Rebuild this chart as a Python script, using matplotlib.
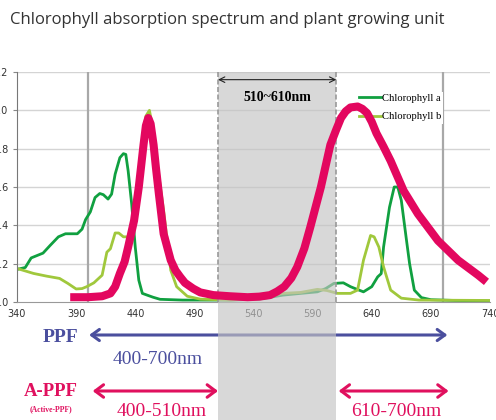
import numpy as np
from matplotlib import pyplot as plt
from matplotlib.transforms import blended_transform_factory

# absorbance / emission curves
chl_a_wl = [340, 347, 352, 356, 362, 368, 375, 381, 391, 395, 398, 402, 406, 410, 413, 417, 420, 423, 427, 430,
            432, 434, 437, 440, 443, 446, 450, 455, 461, 480, 500, 520, 545, 565, 580, 594, 601, 608, 616, 622,
            628, 633, 640, 645, 648, 650, 655, 659, 662, 665, 669, 672, 676, 682, 690, 710, 740]
chl_a_abs = [0.17, 0.18, 0.23, 0.24, 0.255, 0.295, 0.34, 0.356, 0.356, 0.38, 0.43, 0.47, 0.545, 0.566, 0.56, 0.537,
             0.563, 0.667, 0.753, 0.774, 0.77, 0.684, 0.51, 0.287, 0.114, 0.045, 0.036, 0.025, 0.014, 0.01,
             0.01, 0.01, 0.015, 0.036, 0.045, 0.053, 0.07, 0.097, 0.1, 0.08, 0.065, 0.053, 0.08, 0.131, 0.148,
             0.287, 0.494, 0.6, 0.6, 0.53, 0.34, 0.2, 0.062, 0.023, 0.012, 0.008, 0.005]

chl_b_wl = [340, 354, 365, 376, 383, 390, 395, 399, 405, 412, 416, 419, 423, 426, 430, 434, 438, 442, 446, 449,
            452, 455, 459, 464, 470, 475, 484, 495, 520, 545, 565, 580, 594, 602, 611, 622, 628, 633, 639, 642,
            646, 650, 656, 665, 680, 740]
chl_b_abs = [0.175, 0.149, 0.135, 0.123, 0.097, 0.068, 0.07, 0.08, 0.1, 0.14, 0.26, 0.278, 0.36, 0.36, 0.34, 0.34,
             0.39, 0.6, 0.85, 0.97, 1.0, 0.9, 0.7, 0.477, 0.166, 0.08, 0.03, 0.015, 0.01, 0.02, 0.045, 0.05,
             0.066, 0.06, 0.045, 0.045, 0.062, 0.218, 0.347, 0.34, 0.287, 0.183, 0.062, 0.02, 0.01, 0.008]

led_wl = [385, 400, 412, 419, 423, 427, 431, 434, 439, 443, 445, 447, 449, 451, 453, 455.5, 457.5, 460, 464, 470,
          474, 478, 482, 489, 495, 506, 520, 535, 545, 554, 560, 566, 572, 577, 583, 588, 597, 605, 610, 614,
          618, 622, 628, 632, 636, 640, 644, 650, 656, 667, 679, 696, 713, 730, 737]
led_val = [0.025, 0.025, 0.03, 0.045, 0.08, 0.149, 0.21, 0.287, 0.425, 0.6, 0.71, 0.82, 0.92, 0.96, 0.93, 0.82,
           0.7, 0.563, 0.356, 0.218, 0.165, 0.131, 0.1, 0.07, 0.05, 0.036, 0.03, 0.025, 0.028, 0.036, 0.055, 0.08,
           0.125, 0.183, 0.28, 0.39, 0.6, 0.82, 0.9, 0.96, 0.995, 1.015, 1.02, 1.008, 0.986, 0.94, 0.88, 0.81,
           0.736, 0.58, 0.46, 0.32, 0.218, 0.14, 0.105]

x_ticks = [340, 390, 440, 490, 540, 590, 640, 690, 740]
y_ticks = [0.0, 0.2, 0.4, 0.6, 0.8, 1.0, 1.2]
gap = (510, 610)
ppf = (401, 704)
appf_left = (404, 510)
appf_right = (612, 705)

blue = '#4b4f9e'
pink = '#e0105e'
serif = 'Liberation Serif'

fig = plt.figure(figsize=(4.96, 4.2), dpi=100)
ax = fig.add_axes([17 / 496, 118 / 420, 473 / 496, 230 / 420])
ax.set_xlim(340, 740)
ax.set_ylim(0, 1.2)
ax.set_xticks(x_ticks)
ax.set_yticks(y_ticks)
ax.set_yticklabels(['%.1f' % v for v in y_ticks])
ax.tick_params(axis='x', length=0, pad=5, labelsize=7, labelcolor='#333333')
ax.tick_params(axis='y', length=3, pad=3, labelsize=7, labelcolor='#333333', color='#888888')
for s in ['top', 'right']:
    ax.spines[s].set_visible(False)
ax.spines['left'].set_color('#777777')
ax.spines['bottom'].set_color('#999999')
for v in y_ticks[1:]:
    ax.axhline(v, color='#d4d4d4', lw=1, zorder=0.5)
ax.axvline(400, color='#a8a8a8', lw=1.6, zorder=0.6)
ax.axvline(700, color='#a8a8a8', lw=1.6, zorder=0.6)

ax.plot(chl_a_wl, chl_a_abs, color='#10a040', lw=2, label='Chlorophyll a', zorder=2)
ax.plot(chl_b_wl, chl_b_abs, color='#a0c83c', lw=2, label='Chlorophyll b', zorder=2)
ax.plot(led_wl, led_val, color='#e3075f', lw=5.8, solid_capstyle='butt', solid_joinstyle='round', zorder=5)

leg = ax.legend(loc='upper left', bbox_to_anchor=(0.718, 0.915), frameon=True, fancybox=False,
                edgecolor='none', framealpha=1, prop={'family': serif, 'size': 7.6},
                handlelength=2.1, handletextpad=0.1, labelspacing=0.85, borderpad=0.2, borderaxespad=0)
leg.set_zorder(4)

# grey band 510-610 running down to the bottom of the figure
ax.axvspan(gap[0], gap[1], ymin=-0.52, ymax=1, color='#c4c4c4', alpha=0.65, lw=0, clip_on=False, zorder=3)
for v in gap:
    ax.axvline(v, color='#999999', lw=1.2, ls=(0, (3, 1.5)), zorder=3.5)
ax.annotate('', xy=(gap[0], 1.16), xytext=(gap[1], 1.16),
            arrowprops=dict(arrowstyle='<->', color='#222222', lw=0.8, shrinkA=0, shrinkB=0), zorder=6)
ax.text(560, 1.065, '510~610nm', ha='center', va='center', family=serif, fontweight='bold', fontsize=10, zorder=6)

fig.text(10 / 496, 1 - 20 / 420, 'Chlorophyll absorption spectrum and plant growing unit',
         ha='left', va='center', fontsize=12, family='Open Sans', color='#333333')

# PPF / A-PPF ranges under the chart
tr = blended_transform_factory(ax.transData, fig.transFigure)


def fy(px):
    return 1 - px / 420


ax.annotate('', xy=(ppf[0], fy(335)), xycoords=('data', 'figure fraction'),
            xytext=(ppf[1], fy(335)), textcoords=('data', 'figure fraction'),
            arrowprops=dict(arrowstyle='<->,head_length=0.55,head_width=0.4', color=blue, lw=2.2,
                            shrinkA=0, shrinkB=0), annotation_clip=False, zorder=2)
for rng in [appf_left, appf_right]:
    ax.annotate('', xy=(rng[0], fy(391)), xycoords=('data', 'figure fraction'),
                xytext=(rng[1], fy(391)), textcoords=('data', 'figure fraction'),
                arrowprops=dict(arrowstyle='<->,head_length=0.6,head_width=0.45', color=pink, lw=2.2,
                                shrinkA=0, shrinkB=0), annotation_clip=False, zorder=4)

ax.text(377, fy(338), 'PPF', transform=tr, ha='center', va='center', family=serif, fontweight='bold',
        fontsize=14, color=blue, clip_on=False)
ax.text(459, fy(360), '400-700nm', transform=tr, ha='center', va='center', family=serif,
        fontsize=14, color=blue, clip_on=False)
ax.text(369, fy(392), 'A-PPF', transform=tr, ha='center', va='center', family=serif, fontweight='bold',
        fontsize=13.5, color=pink, clip_on=False)
ax.text(369, fy(409), '(Active-PPF)', transform=tr, ha='center', va='center', family=serif,
        fontweight='bold', fontsize=5.5, color=pink, clip_on=False)
ax.text(462, fy(411), '400-510nm', transform=tr, ha='center', va='center', family=serif,
        fontsize=14, color=pink, clip_on=False)
ax.text(661, fy(411), '610-700nm', transform=tr, ha='center', va='center', family=serif,
        fontsize=14, color=pink, clip_on=False)

fig.savefig('out.png', dpi=100)
